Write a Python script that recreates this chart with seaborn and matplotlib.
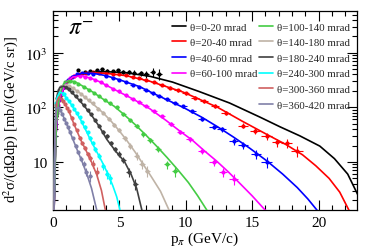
import numpy as np
import pandas as pd
import matplotlib
matplotlib.use("Agg")
import matplotlib.pyplot as plt
import seaborn as sns
from matplotlib.lines import Line2D
from matplotlib.ticker import FixedLocator, FuncFormatter, MultipleLocator, NullFormatter

# ---------------- data ----------------
labels = ["θ=0-20 mrad", "θ=20-40 mrad", "θ=40-60 mrad", "θ=60-100 mrad",
          "θ=100-140 mrad", "θ=140-180 mrad", "θ=180-240 mrad", "θ=240-300 mrad",
          "θ=300-360 mrad", "θ=360-420 mrad"]
colors = ["#000000", "#ff0000", "#0000ff", "#ff00ff", "#44cc44",
          "#bfb3a6", "#404040", "#00ffff", "#d06060", "#8080a8"]

# fitted curves (p in GeV/c, cross section in mb/(GeV/c sr))
fit_p_0_20 = [0.08, 0.2, 0.35, 0.6, 1.0, 1.5, 2.2, 3.0, 4.0, 5.5, 7.3, 9.0, 11.0, 13.3, 15.6, 17.1, 18.6, 20.1, 21.2, 22.2, 23.0]
fit_v_0_20 = [1.3, 25, 90, 170, 280, 360, 410, 440, 450, 430, 370, 290, 195, 120, 66, 44, 30, 19.5, 11.5, 6, 2.4]
fit_p_20_40 = [0.08, 0.2, 0.35, 0.6, 1.0, 1.5, 2.2, 3.0, 4.0, 5.5, 7.3, 9.8, 12.4, 14.3, 16.1, 17.6, 18.8, 19.8, 20.8, 21.6, 22.3]
fit_v_20_40 = [1.3, 25, 90, 170, 280, 360, 410, 430, 420, 380, 300, 190, 100, 55, 32, 20.5, 13.5, 8.5, 5, 2.8, 1.3]
fit_p_40_60 = [0.08, 0.2, 0.35, 0.6, 1.0, 1.5, 2.2, 3.0, 4.0, 5.0, 6.5, 8.0, 9.8, 11.2, 12.4, 13.6, 14.8, 16.1, 17.3, 18.4, 19.2, 19.9]
fit_v_40_60 = [1.3, 25, 90, 170, 290, 370, 420, 420, 380, 320, 240, 160, 100, 66, 44, 28.5, 18, 10.5, 6, 3.4, 2.1, 1.3]
fit_p_60_100 = [0.08, 0.2, 0.35, 0.6, 1.0, 1.5, 2.2, 3.0, 3.5, 4.5, 6.0, 7.3, 8.5, 9.6, 10.5, 11.4, 12.3, 13.2, 14.1, 15.0, 16.0]
fit_v_60_100 = [1.3, 25, 90, 170, 290, 360, 380, 330, 295, 220, 143, 94, 58, 36, 25, 16, 10.5, 6.6, 4.0, 2.4, 1.3]
fit_p_100_140 = [0.08, 0.25, 0.5, 0.8, 1.2, 1.7, 2.3, 3.0, 3.8, 4.6, 5.4, 6.2, 7.0, 7.8, 8.6, 9.4, 10.2, 10.9, 11.6]
fit_v_100_140 = [1.3, 50, 170, 270, 310, 290, 240, 190, 140, 105, 72, 48, 31, 19.5, 12, 7.2, 4.2, 2.4, 1.3]
fit_p_140_180 = [0.08, 0.15, 0.3, 0.6, 1.0, 1.5, 2.0, 2.6, 3.2, 3.8, 4.4, 5.0, 5.6, 6.2, 6.8, 7.4, 8.1, 8.75]
fit_v_140_180 = [1.3, 30, 140, 240, 260, 225, 185, 140, 105, 78, 55, 37, 24, 15, 9, 5.4, 2.9, 1.3]
fit_p_180_240 = [0.08, 0.15, 0.3, 0.5, 0.8, 1.2, 1.7, 2.3, 2.9, 3.5, 4.05, 4.7, 5.4, 5.9, 6.3, 6.7]
fit_v_180_240 = [1.3, 40, 160, 230, 245, 210, 160, 110, 72, 44, 26, 16, 10, 5.8, 3.3, 1.3]
fit_p_240_300 = [0.08, 0.15, 0.3, 0.5, 0.75, 1.0, 1.3, 1.7, 2.1, 2.5, 2.8, 3.2, 3.7, 4.1, 4.5, 4.8, 5.05]
fit_v_240_300 = [1.3, 40, 150, 190, 180, 150, 120, 85, 58, 37, 26, 17, 10, 6.3, 3.7, 2.3, 1.3]
fit_p_300_360 = [0.08, 0.15, 0.3, 0.45, 0.65, 0.9, 1.2, 1.5, 1.8, 2.1, 2.5, 2.9, 3.3, 3.65, 3.95]
fit_v_300_360 = [1.3, 40, 130, 155, 140, 115, 85, 55, 37, 25, 16, 10, 5.8, 3.0, 1.3]
fit_p_360_420 = [0.08, 0.15, 0.25, 0.4, 0.6, 0.85, 1.1, 1.5, 1.85, 2.2, 2.55, 2.9, 3.3]
fit_v_360_420 = [1.3, 40, 95, 100, 85, 62, 45, 26, 16, 10, 6, 3.3, 1.3]

# measured points
dat_p_0_20 = [1.9, 2.4, 2.8, 3.3, 3.7, 4.1, 4.5, 4.9, 5.3, 5.7, 6.1, 6.6, 7.0, 7.5, 8.0]
dat_v_0_20 = [490, 440, 470, 480, 500, 470, 455, 475, 445, 440, 430, 420, 400, 440, 410]
dat_p_20_40 = [0.6, 0.9, 1.2, 1.6, 2.0, 2.5, 3.0, 3.5, 4.0, 4.5, 5.0, 5.5, 6.0, 6.5, 7.0, 7.6, 8.2, 8.8, 9.4, 10.0, 10.7, 11.4, 12.2, 13.0, 14.3, 15.2, 16.1, 16.9, 17.6, 18.4]
dat_v_20_40 = [165, 250, 320, 380, 400, 420, 440, 425, 430, 410, 400, 385, 360, 345, 320, 290, 255, 230, 205, 180, 150, 130, 105, 80, 46, 37, 30, 23, 22, 16]
dat_p_40_60 = [0.5, 0.8, 1.1, 1.4, 1.8, 2.2, 2.6, 3.0, 3.5, 4.0, 4.5, 5.0, 5.5, 6.0, 6.5, 7.0, 7.5, 8.0, 8.6, 9.2, 9.8, 10.5, 11.2, 12.1, 12.7, 13.6, 14.3, 15.3, 16.1]
dat_v_40_60 = [140, 240, 310, 360, 400, 430, 420, 415, 440, 370, 345, 310, 290, 260, 235, 210, 180, 160, 140, 120, 105, 85, 61, 44, 40, 24, 20.5, 14, 10]
dat_p_60_100 = [0.4, 0.6, 0.8, 1.0, 1.3, 1.6, 2.0, 2.4, 2.8, 3.2, 3.6, 4.0, 4.5, 5.0, 5.5, 6.0, 6.5, 7.0, 7.6, 8.2, 8.9, 9.6, 10.3, 11.2, 12.1, 12.8, 13.6]
dat_v_60_100 = [110, 175, 240, 290, 340, 370, 380, 360, 340, 310, 285, 255, 220, 195, 165, 143, 125, 105, 85, 68, 50, 35, 26, 16, 10, 6.6, 4.9]
dat_p_100_140 = [0.3, 0.5, 0.7, 0.9, 1.1, 1.3, 1.6, 1.9, 2.3, 2.7, 3.1, 3.5, 3.9, 4.3, 4.8, 5.3, 5.8, 6.3, 6.8, 7.3, 7.9, 8.6, 9.2]
dat_v_100_140 = [80, 170, 240, 290, 300, 300, 285, 265, 235, 210, 185, 160, 135, 118, 100, 75, 58, 45, 32, 25, 17.5, 9, 6.9]
dat_p_140_180 = [0.25, 0.4, 0.6, 0.8, 1.0, 1.2, 1.5, 1.8, 2.1, 2.4, 2.7, 3.0, 3.4, 3.8, 4.2, 4.6, 5.0, 5.4, 5.8, 6.3, 6.7, 7.1]
dat_v_140_180 = [100, 180, 230, 250, 255, 245, 225, 200, 175, 155, 135, 118, 95, 80, 62, 48, 38, 27, 20, 13, 9, 6.8]
dat_p_180_240 = [0.2, 0.3, 0.45, 0.6, 0.8, 1.0, 1.2, 1.45, 1.7, 2.0, 2.3, 2.6, 2.9, 3.2, 3.5, 3.8, 4.1, 4.4, 4.7, 5.0, 5.3, 5.7, 6.2]
dat_v_180_240 = [70, 150, 210, 240, 250, 235, 215, 190, 160, 135, 112, 90, 74, 58, 46, 36, 30, 22, 17, 14, 11, 6.5, 4.0]
dat_p_240_300 = [0.15, 0.25, 0.35, 0.5, 0.65, 0.8, 1.0, 1.2, 1.4, 1.6, 1.8, 2.0, 2.2, 2.4, 2.6, 2.8, 3.0, 3.2, 3.5, 3.8, 4.05, 4.3]
dat_v_240_300 = [45, 120, 170, 190, 185, 175, 150, 128, 110, 92, 78, 66, 53, 44, 35, 28, 22, 17, 13, 8.5, 6, 5]
dat_p_300_360 = [0.15, 0.25, 0.35, 0.45, 0.6, 0.75, 0.9, 1.05, 1.2, 1.4, 1.6, 1.8, 2.0, 2.2, 2.4, 2.6, 2.8, 3.0, 3.3]
dat_v_300_360 = [45, 110, 145, 155, 145, 130, 115, 98, 85, 65, 50, 38, 28, 22, 18, 14, 12, 9.2, 6.6]
dat_p_360_420 = [0.12, 0.2, 0.3, 0.4, 0.55, 0.7, 0.85, 1.0, 1.15, 1.3, 1.5, 1.7, 1.9, 2.1, 2.3, 2.5, 2.8]
dat_v_360_420 = [30, 75, 100, 100, 90, 75, 62, 52, 44, 36, 27, 20, 15, 11.5, 9.3, 6.6, 5.6]

fits = [(fit_p_0_20, fit_v_0_20), (fit_p_20_40, fit_v_20_40), (fit_p_40_60, fit_v_40_60),
        (fit_p_60_100, fit_v_60_100), (fit_p_100_140, fit_v_100_140), (fit_p_140_180, fit_v_140_180),
        (fit_p_180_240, fit_v_180_240), (fit_p_240_300, fit_v_240_300), (fit_p_300_360, fit_v_300_360),
        (fit_p_360_420, fit_v_360_420)]
dats = [(dat_p_0_20, dat_v_0_20), (dat_p_20_40, dat_v_20_40), (dat_p_40_60, dat_v_40_60),
        (dat_p_60_100, dat_v_60_100), (dat_p_100_140, dat_v_100_140), (dat_p_140_180, dat_v_140_180),
        (dat_p_180_240, dat_v_180_240), (dat_p_240_300, dat_v_240_300), (dat_p_300_360, dat_v_300_360),
        (dat_p_360_420, dat_v_360_420)]

# ---------------- styling ----------------
sns.set_theme(style="ticks")
plt.rcParams["font.family"] = ["Liberation Serif", "DejaVu Serif"]
plt.rcParams["mathtext.fontset"] = "stix"

fig = plt.figure(figsize=(3.74, 2.53), dpi=100)
fig.patch.set_facecolor("white")
ax = fig.add_axes([53 / 374, 1 - 211 / 253, (357 - 53) / 374, (211 - 12) / 253])
ax.set_facecolor("white")

fit_df = pd.concat([pd.DataFrame({"p": fp, "v": fv, "theta": lab})
                    for (fp, fv), lab in zip(fits, labels)], ignore_index=True)
pal = dict(zip(labels, colors))

# measured points with error bars
for (dp, dv), col in zip(dats, colors):
    dp = np.asarray(dp, float)
    dv = np.asarray(dv, float)
    xe = 0.022 * dp + 0.05
    rel = 0.04 + 0.18 * (dp / dp.max()) ** 4
    ax.errorbar(dp, dv, xerr=xe, yerr=rel * dv, fmt="o", ms=2.0, color=col,
                mec=col, elinewidth=0.8, capsize=0, zorder=2)

sns.lineplot(data=fit_df, x="p", y="v", hue="theta", palette=pal, estimator=None,
             sort=False, legend=False, lw=1.2, ax=ax, zorder=3)

ax.set_yscale("log")
ax.set_xlim(0, 22.9)
ax.set_ylim(1.32, 5800)

ax.xaxis.set_major_locator(MultipleLocator(5))
ax.xaxis.set_minor_locator(MultipleLocator(1))
ax.yaxis.set_major_locator(FixedLocator([10, 100, 1000]))
minor = [m * 10 ** e for e in range(0, 4) for m in range(2, 10)]
ax.yaxis.set_minor_locator(FixedLocator(minor))
ax.yaxis.set_minor_formatter(NullFormatter())
ax.yaxis.set_major_formatter(FuncFormatter(
    lambda v, pos: {10: "10", 100: r"$10^{2}$", 1000: r"$10^{3}$"}.get(int(round(v)), "")))

ax.tick_params(which="both", direction="in", top=True, right=True, colors="black",
               labelsize=11, width=0.8)
ax.tick_params(which="major", length=7, pad=4)
ax.tick_params(which="minor", length=3.5)
for s in ax.spines.values():
    s.set_color("black")
    s.set_linewidth(0.9)

ax.set_xlabel(r"p$_{\pi}$ (GeV/c)", fontsize=11, labelpad=1, color="black")
ax.set_ylabel(r"d$^{2}$σ/(dΩdp) [mb/(GeV/c sr)]", fontsize=10.5, labelpad=2, color="black")
ax.yaxis.set_label_coords(-0.108, 0.46)

ax.text(0.048, 0.915, r"$\pi^{-}$", transform=ax.transAxes, fontsize=17,
        ha="left", va="center", color="black")

handles = [Line2D([], [], color=c, lw=1.2) for c in colors]
leg_kw = dict(loc="upper left", frameon=False, fontsize=7.8, handlelength=1.3,
              handletextpad=0.35, labelspacing=0.56, borderpad=0, borderaxespad=0)
leg1 = ax.legend(handles[:4], labels[:4], bbox_to_anchor=(0.392, 0.945), **leg_kw)
ax.add_artist(leg1)
ax.legend(handles[4:], labels[4:], bbox_to_anchor=(0.678, 0.945), **leg_kw)

fig.savefig("out.png", dpi=100, facecolor="white")
